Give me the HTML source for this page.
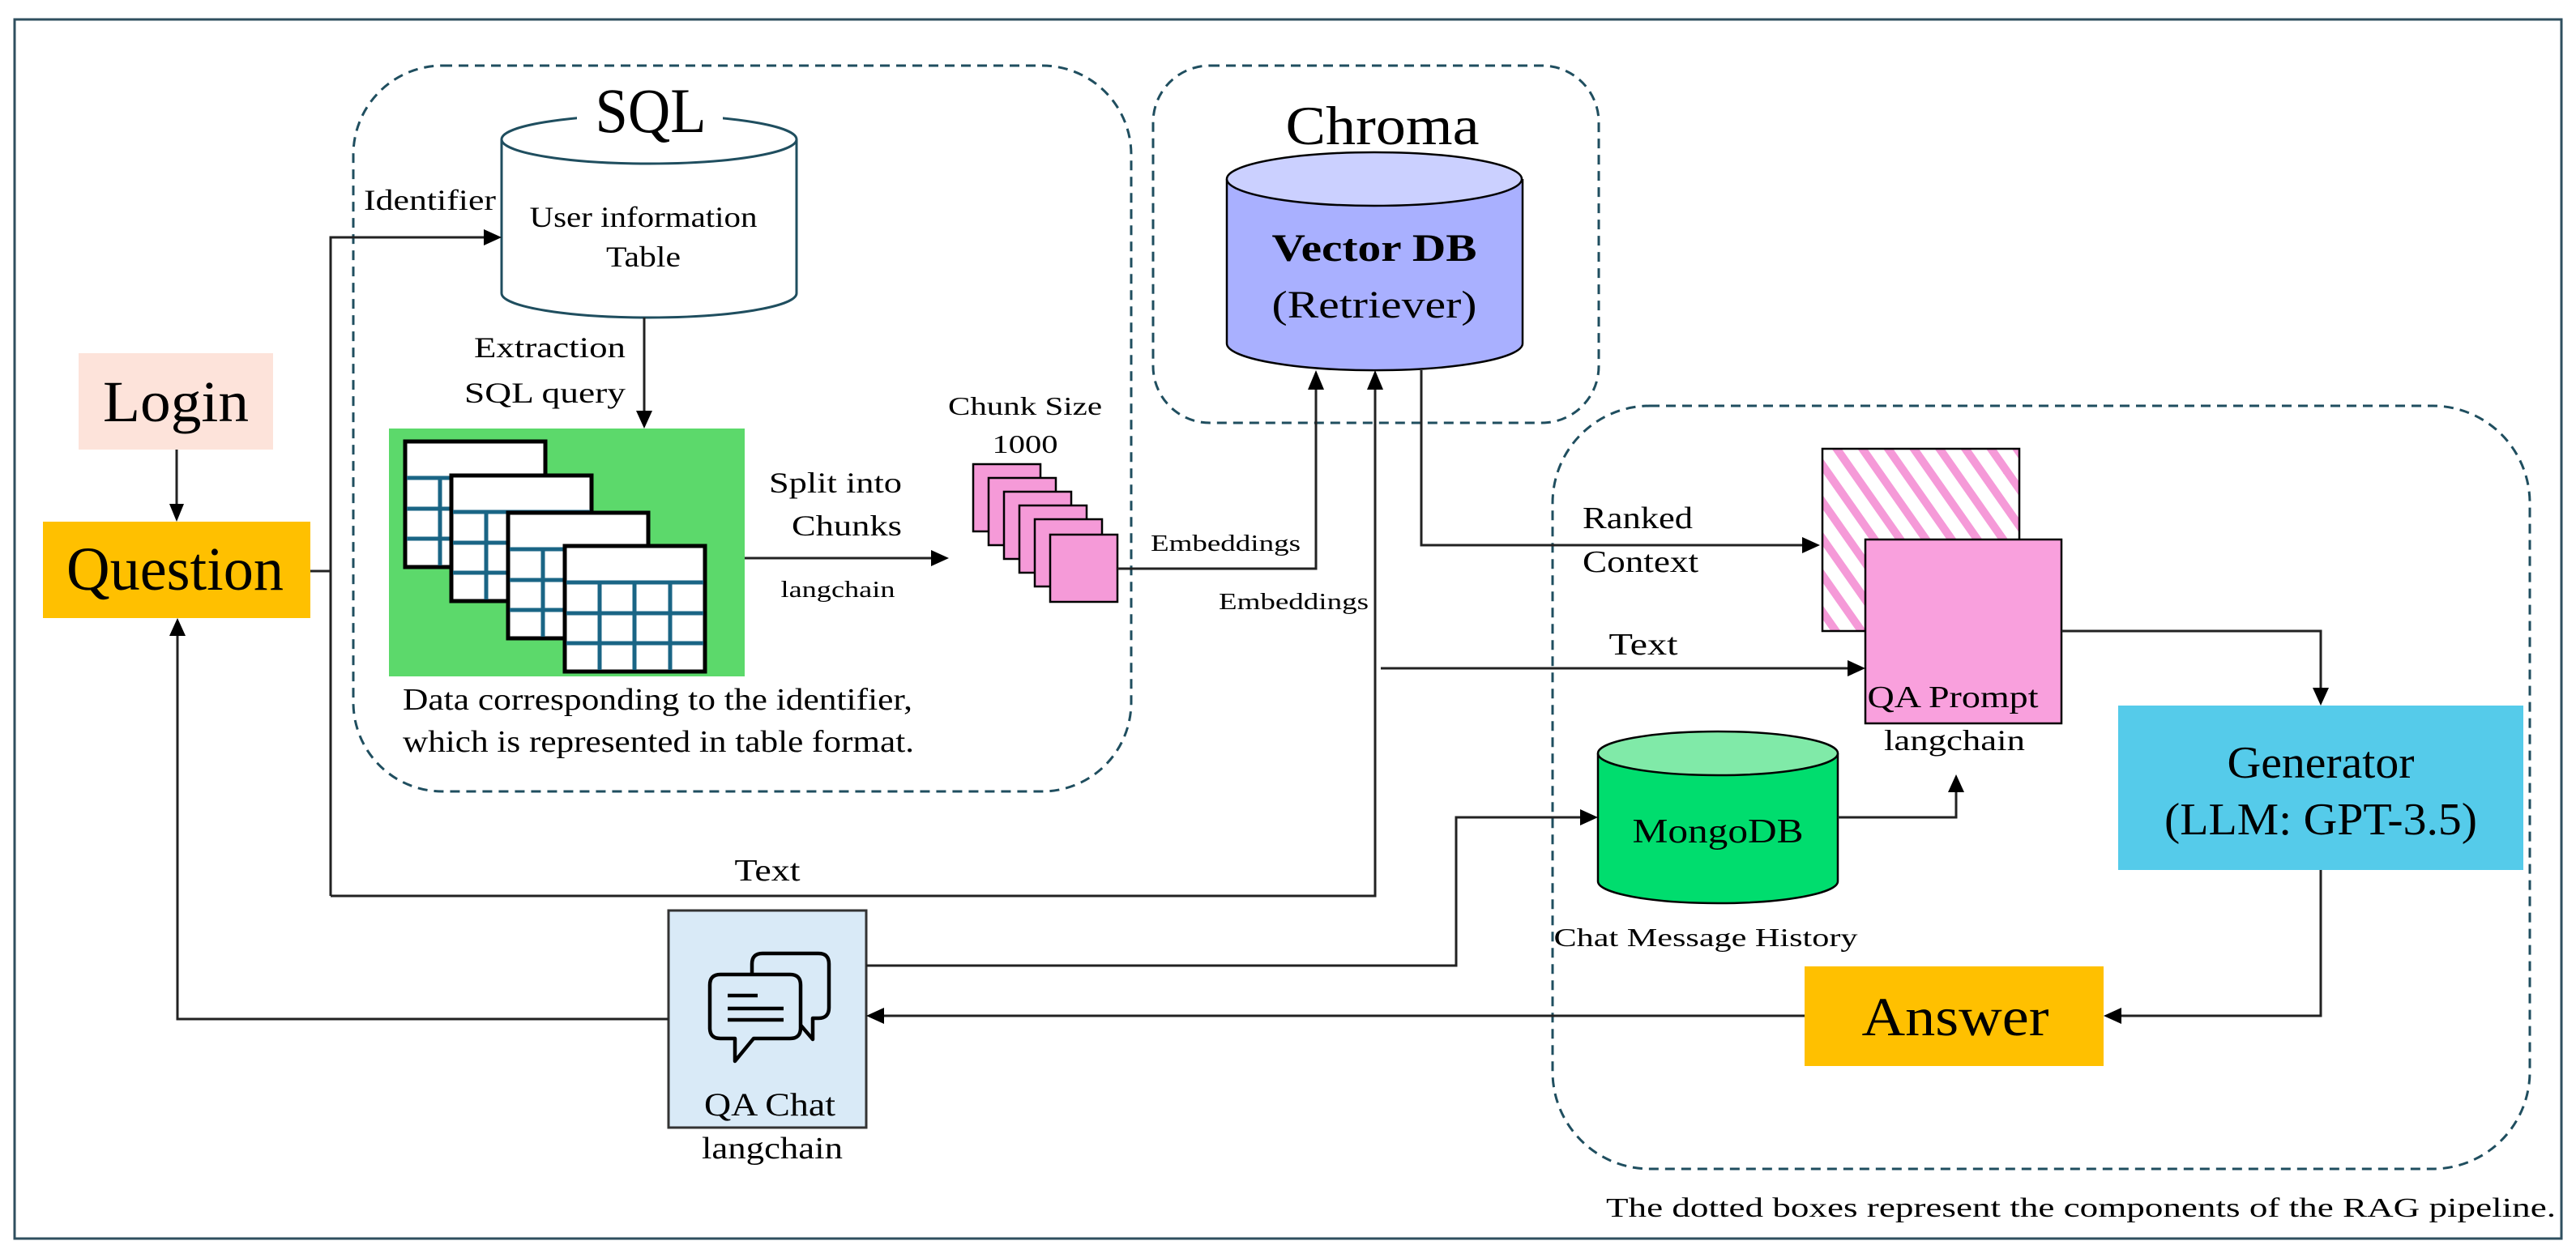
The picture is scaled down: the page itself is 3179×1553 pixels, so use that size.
<!DOCTYPE html>
<html><head><meta charset="utf-8"><style>
html,body{margin:0;padding:0;background:#fff;}
svg{display:block;}
text{font-family:"Liberation Serif",serif;fill:#000;}
</style></head><body>
<svg width="3179" height="1553" viewBox="0 0 3179 1553" xmlns="http://www.w3.org/2000/svg">
<defs>
<marker id="a" viewBox="0 0 10 10" refX="10" refY="5" markerWidth="8" markerHeight="8" markerUnits="userSpaceOnUse" orient="auto"></marker>
<pattern id="hatch" width="26" height="26" patternUnits="userSpaceOnUse" patternTransform="rotate(-35)">
<rect width="26" height="26" fill="#fff"/>
<rect x="0" y="0" width="10" height="26" fill="#f59ad8"/>
</pattern>
<g id="tbl">
<rect x="0" y="0" width="173" height="155" fill="#fff" stroke="#000" stroke-width="5"/>
<g stroke="#1a6585" stroke-width="5">
<line x1="2" y1="45" x2="171" y2="45"/><line x1="2" y1="83" x2="171" y2="83"/><line x1="2" y1="120" x2="171" y2="120"/>
<line x1="43" y1="45" x2="43" y2="153"/><line x1="86" y1="45" x2="86" y2="153"/><line x1="130" y1="45" x2="130" y2="153"/>
</g>
</g>
</defs>

<!-- outer border -->
<rect x="18" y="24" width="3143" height="1505" fill="none" stroke="#2f4f5f" stroke-width="3"/>

<!-- dashed boxes -->
<g fill="none" stroke="#1f4e5f" stroke-width="3" stroke-dasharray="12 8">
<rect x="436" y="81" width="960" height="896" rx="110" ry="110"/>
<rect x="1423" y="81" width="550" height="441" rx="70" ry="70"/>
<rect x="1916" y="501" width="1206" height="942" rx="120" ry="120"/>
</g>

<!-- Login / Question -->
<rect x="97" y="436" width="240" height="119" fill="#fde3da"/>
<text x="217" y="520" font-size="72" text-anchor="middle" textLength="180" lengthAdjust="spacingAndGlyphs">Login</text>
<rect x="53" y="644" width="330" height="119" fill="#ffc000"/>
<text x="216" y="728" font-size="76" text-anchor="middle" textLength="268" lengthAdjust="spacingAndGlyphs">Question</text>

<!-- SQL cylinder -->
<path d="M619,172 L619,362 A182,30 0 0 0 983,362 L983,172" fill="#fff" stroke="#1f4e5f" stroke-width="3"/>
<ellipse cx="801" cy="172" rx="182" ry="30" fill="#fff" stroke="#1f4e5f" stroke-width="3"/>
<rect x="712" y="95" width="180" height="70" fill="#fff"/>
<text x="803" y="163" font-size="78" text-anchor="middle" textLength="137" lengthAdjust="spacingAndGlyphs">SQL</text>
<text x="794" y="280" font-size="36" text-anchor="middle" textLength="281" lengthAdjust="spacingAndGlyphs">User information</text>
<text x="794" y="329" font-size="36" text-anchor="middle" textLength="92" lengthAdjust="spacingAndGlyphs">Table</text>
<text x="449" y="259" font-size="36" textLength="163" lengthAdjust="spacingAndGlyphs">Identifier</text>
<text x="772" y="441" font-size="36" text-anchor="end" textLength="187" lengthAdjust="spacingAndGlyphs">Extraction</text>
<text x="772" y="497" font-size="36" text-anchor="end" textLength="199" lengthAdjust="spacingAndGlyphs">SQL query</text>

<!-- green tables -->
<rect x="480" y="529" width="439" height="306" fill="#5cd96b"/>
<use href="#tbl" x="500" y="545"/>
<use href="#tbl" x="557" y="587"/>
<use href="#tbl" x="627" y="633"/>
<use href="#tbl" x="697" y="674"/>
<text x="497" y="876" font-size="38" textLength="629" lengthAdjust="spacingAndGlyphs">Data corresponding to the identifier,</text>
<text x="497" y="928" font-size="38" textLength="631" lengthAdjust="spacingAndGlyphs">which is represented in table format.</text>

<text x="1113" y="608" font-size="36" text-anchor="end" textLength="164" lengthAdjust="spacingAndGlyphs">Split into</text>
<text x="1113" y="661" font-size="36" text-anchor="end" textLength="136" lengthAdjust="spacingAndGlyphs">Chunks</text>
<text x="1034" y="737" font-size="29" text-anchor="middle" textLength="141" lengthAdjust="spacingAndGlyphs">langchain</text>
<text x="1265" y="512" font-size="32" text-anchor="middle" textLength="190" lengthAdjust="spacingAndGlyphs">Chunk Size</text>
<text x="1265" y="559" font-size="32" text-anchor="middle" textLength="81" lengthAdjust="spacingAndGlyphs">1000</text>

<!-- chunks -->
<g fill="#f59ad8" stroke="#000" stroke-width="2.5">
<rect x="1201" y="573" width="83" height="83"/>
<rect x="1220" y="590" width="83" height="83"/>
<rect x="1239" y="607" width="83" height="83"/>
<rect x="1258" y="624" width="83" height="83"/>
<rect x="1277" y="641" width="83" height="83"/>
<rect x="1296" y="660" width="83" height="83"/>
</g>

<!-- Chroma -->
<text x="1706" y="178" font-size="68" text-anchor="middle" textLength="239" lengthAdjust="spacingAndGlyphs">Chroma</text>
<path d="M1514,221 L1514,424 A182,33 0 0 0 1879,424 L1879,221" fill="#a9b0ff" stroke="#000" stroke-width="2.5"/>
<ellipse cx="1696" cy="221" rx="182" ry="33" fill="#cbd0ff" stroke="#000" stroke-width="2.5"/>
<text x="1696" y="322" font-size="48" font-weight="bold" text-anchor="middle" textLength="253" lengthAdjust="spacingAndGlyphs">Vector DB</text>
<text x="1696" y="392" font-size="48" text-anchor="middle" textLength="253" lengthAdjust="spacingAndGlyphs">(Retriever)</text>
<text x="1420" y="680" font-size="29" textLength="185" lengthAdjust="spacingAndGlyphs">Embeddings</text>
<text x="1504" y="752" font-size="29" textLength="185" lengthAdjust="spacingAndGlyphs">Embeddings</text>

<!-- hatched + QA Prompt -->
<rect x="2249" y="554" width="243" height="225" fill="url(#hatch)" stroke="#000" stroke-width="2.5"/>
<rect x="2302" y="666" width="242" height="227" fill="#f9a0dd" stroke="#000" stroke-width="2.5"/>
<text x="2410" y="873" font-size="38" text-anchor="middle" textLength="211" lengthAdjust="spacingAndGlyphs">QA Prompt</text>
<text x="2412" y="926" font-size="36" text-anchor="middle" textLength="174" lengthAdjust="spacingAndGlyphs">langchain</text>
<text x="1953" y="652" font-size="38" textLength="136" lengthAdjust="spacingAndGlyphs">Ranked</text>
<text x="1953" y="706" font-size="38" textLength="143" lengthAdjust="spacingAndGlyphs">Context</text>
<text x="2028" y="808" font-size="38" text-anchor="middle" textLength="85" lengthAdjust="spacingAndGlyphs">Text</text>

<!-- Generator -->
<rect x="2614" y="871" width="500" height="203" fill="#55cbea"/>
<text x="2864" y="960" font-size="56" text-anchor="middle" textLength="231" lengthAdjust="spacingAndGlyphs">Generator</text>
<text x="2864" y="1030" font-size="56" text-anchor="middle" textLength="386" lengthAdjust="spacingAndGlyphs">(LLM: GPT-3.5)</text>

<!-- MongoDB -->
<path d="M1972,930 L1972,1088 A148,27 0 0 0 2268,1088 L2268,930" fill="#00dd6e" stroke="#000" stroke-width="2.5"/>
<ellipse cx="2120" cy="930" rx="148" ry="27" fill="#80eaa8" stroke="#000" stroke-width="2.5"/>
<text x="2120" y="1040" font-size="42" text-anchor="middle" textLength="211" lengthAdjust="spacingAndGlyphs">MongoDB</text>
<text x="2105" y="1168" font-size="32" text-anchor="middle" textLength="375" lengthAdjust="spacingAndGlyphs">Chat Message History</text>

<!-- Answer -->
<rect x="2227" y="1193" width="369" height="123" fill="#ffc000"/>
<text x="2413" y="1278" font-size="68" text-anchor="middle" textLength="231" lengthAdjust="spacingAndGlyphs">Answer</text>

<!-- QA Chat -->
<rect x="825" y="1124" width="244" height="268" fill="#d9eaf7" stroke="#333" stroke-width="3"/>
<g fill="none" stroke="#000" stroke-width="4.5" stroke-linejoin="round">
<path d="M928,1203 L928,1190 Q928,1177 941,1177 L1010,1177 Q1023,1177 1023,1190 L1023,1244 Q1023,1257 1010,1257 L1003,1257 L1003,1283 L985,1262"/>
<path d="M889,1203 L975,1203 Q988,1203 988,1216 L988,1269 Q988,1282 975,1282 L930,1282 L907,1310 L907,1282 L889,1282 Q876,1282 876,1269 L876,1216 Q876,1203 889,1203 Z" fill="#d9eaf7"/>
<line x1="898" y1="1229" x2="935" y2="1229"/>
<line x1="898" y1="1245" x2="967" y2="1245"/>
<line x1="898" y1="1259" x2="967" y2="1259"/>
</g>
<text x="950" y="1377" font-size="40" text-anchor="middle" textLength="162" lengthAdjust="spacingAndGlyphs">QA Chat</text>
<text x="953" y="1430" font-size="38" text-anchor="middle" textLength="174" lengthAdjust="spacingAndGlyphs">langchain</text>

<text x="947" y="1087" font-size="38" text-anchor="middle" textLength="81" lengthAdjust="spacingAndGlyphs">Text</text>
<text x="1982" y="1502" font-size="34" textLength="1172" lengthAdjust="spacingAndGlyphs">The dotted boxes represent the components of the RAG pipeline.</text>

<!-- connectors -->
<g fill="none" stroke="#222" stroke-width="3">
<line x1="218" y1="555" x2="218" y2="624"/>
<polyline points="383,705 408,705"/>
<polyline points="408,1106 408,293 597,293"/>
<line x1="795" y1="392" x2="795" y2="509"/>
<line x1="919" y1="689" x2="1151" y2="689"/>
<polyline points="1379,702 1624,702 1624,479"/>
<polyline points="408,1106 1697,1106 1697,479"/>
<polyline points="1754,457 1754,673 2226,673"/>
<line x1="1704" y1="825" x2="2282" y2="825"/>
<polyline points="2544,779 2864,779 2864,851"/>
<polyline points="1069,1192 1797,1192 1797,1009 1952,1009"/>
<polyline points="2268,1009 2414,1009 2414,976"/>
<polyline points="2864,1074 2864,1254 2616,1254"/>
<line x1="2227" y1="1254" x2="1089" y2="1254"/>
<polyline points="825,1258 219,1258 219,783"/>
</g>
<!-- arrowheads -->
<g fill="#000">
<polygon points="218,644 209,622 227,622"/>
<polygon points="619,293 597,283 597,303"/>
<polygon points="795,529 785,507 805,507"/>
<polygon points="1171,689 1149,679 1149,699"/>
<polygon points="1624,457 1614,481 1634,481"/>
<polygon points="1697,457 1687,481 1707,481"/>
<polygon points="2246,673 2224,663 2224,683"/>
<polygon points="2302,825 2280,815 2280,835"/>
<polygon points="2864,871 2854,849 2874,849"/>
<polygon points="1972,1009 1950,999 1950,1019"/>
<polygon points="2414,956 2404,978 2424,978"/>
<polygon points="2596,1254 2618,1244 2618,1264"/>
<polygon points="1069,1254 1091,1244 1091,1264"/>
<polygon points="219,763 209,785 229,785"/>
</g>
</svg>
</body></html>
